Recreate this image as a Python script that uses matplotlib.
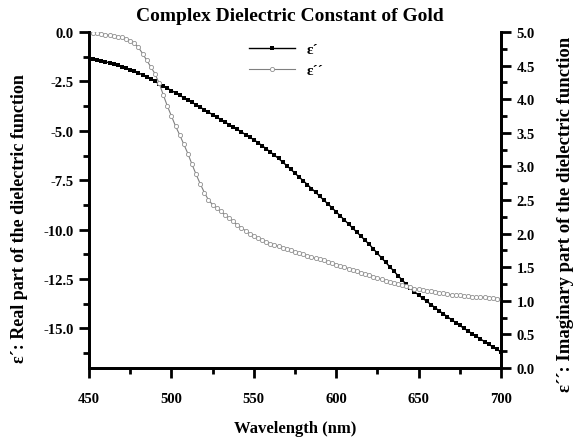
import matplotlib
matplotlib.use("Agg")
import matplotlib.pyplot as plt
import numpy as np
from matplotlib.ticker import MultipleLocator

plt.rcParams['font.family'] = ['Liberation Serif', 'DejaVu Serif']
plt.rcParams['font.weight'] = 'bold'
plt.rcParams['axes.unicode_minus'] = False

# Wavelength grid (nm), 2.5 nm step
wavelength = np.arange(450, 700.01, 2.5)

# Real part of the dielectric function
eps_real = [
    -1.33, -1.37, -1.41, -1.46, -1.51, -1.56, -1.62, -1.68, -1.75, -1.82,
    -1.90, -1.98, -2.07, -2.17, -2.27, -2.38, -2.50, -2.62, -2.74, -2.85,
    -2.96, -3.08, -3.20, -3.32, -3.44, -3.56, -3.68, -3.81, -3.93, -4.06,
    -4.18, -4.31, -4.43, -4.56, -4.68, -4.81, -4.93, -5.06, -5.19, -5.32,
    -5.45, -5.60, -5.75, -5.91, -6.07, -6.23, -6.40, -6.58, -6.76, -6.95,
    -7.15, -7.34, -7.53, -7.72, -7.92, -8.11, -8.31, -8.51, -8.70, -8.90,
    -9.10, -9.31, -9.51, -9.72, -9.92, -10.13, -10.33, -10.54, -10.74, -10.97,
    -11.20, -11.43, -11.65, -11.88, -12.10, -12.33, -12.55, -12.76, -12.96, -13.14,
    -13.31, -13.47, -13.63, -13.79, -13.95, -14.11, -14.26, -14.41, -14.56, -14.70,
    -14.85, -14.99, -15.13, -15.27, -15.40, -15.53, -15.67, -15.80, -15.93, -16.06,
    -16.18,
]

# Imaginary part of the dielectric function
eps_imag = [
    4.99, 4.99, 4.98, 4.97, 4.96, 4.95, 4.94, 4.93, 4.92, 4.90,
    4.87, 4.83, 4.77, 4.68, 4.58, 4.48, 4.38, 4.24, 4.07, 3.90,
    3.75, 3.60, 3.47, 3.33, 3.19, 3.03, 2.88, 2.74, 2.61, 2.50,
    2.43, 2.38, 2.33, 2.28, 2.23, 2.18, 2.13, 2.09, 2.04, 2.00,
    1.97, 1.93, 1.90, 1.88, 1.85, 1.83, 1.81, 1.79, 1.77, 1.75,
    1.73, 1.71, 1.69, 1.67, 1.65, 1.63, 1.62, 1.60, 1.58, 1.56,
    1.54, 1.52, 1.50, 1.48, 1.46, 1.44, 1.42, 1.40, 1.38, 1.36,
    1.34, 1.32, 1.30, 1.28, 1.27, 1.25, 1.24, 1.22, 1.20, 1.18,
    1.17, 1.16, 1.15, 1.14, 1.13, 1.12, 1.11, 1.10, 1.09, 1.08,
    1.08, 1.07, 1.07, 1.06, 1.06, 1.05, 1.05, 1.04, 1.04, 1.03,
    1.03,
]

fig = plt.figure(figsize=(5.78, 4.39), dpi=100)
ax = fig.add_axes([0.154, 0.1595, 0.7128, 0.7653])
ax2 = ax.twinx()

l1, = ax.plot(wavelength, eps_real, color='black', lw=1.0, marker='s',
              markersize=3.2, markeredgewidth=0, label='ε´')
l2, = ax2.plot(wavelength, eps_imag, color='#808080', lw=0.8, marker='o',
               markersize=3, markerfacecolor='white', markeredgecolor='#909090',
               markeredgewidth=0.6, label='ε´´')

ax.set_xlim(450, 700)
ax.set_ylim(-17, 0)
ax2.set_ylim(0, 5)

ax.xaxis.set_major_locator(MultipleLocator(50))
ax.xaxis.set_minor_locator(MultipleLocator(25))
ax.yaxis.set_major_locator(MultipleLocator(2.5))
ax.yaxis.set_minor_locator(MultipleLocator(1.25))
ax2.yaxis.set_major_locator(MultipleLocator(0.5))
ax2.yaxis.set_minor_locator(MultipleLocator(0.25))
ax.yaxis.set_major_formatter('{x:.1f}')
ax2.yaxis.set_major_formatter('{x:.1f}')

for a in (ax, ax2):
    a.spines['top'].set_visible(False)
    for s in a.spines.values():
        s.set_linewidth(2)
    a.tick_params(which='major', direction='out', length=7, width=2,
                  labelsize=10.5, pad=4)
    a.tick_params(which='minor', direction='out', length=4, width=2)
ax.tick_params(axis='x', pad=10)

ax.set_xlabel('Wavelength (nm)', fontsize=12, fontweight='bold', labelpad=11)
ax.set_ylabel('ε´: Real part of the dielectric function', fontsize=13,
              fontweight='bold')
ax.yaxis.set_label_coords(-0.148, 0.449)
ax2.set_ylabel('ε´´: Imaginary part of the dielectric function', fontsize=13.5,
               fontweight='bold', rotation=90)
ax2.yaxis.set_label_coords(1.136, 0.461)

fig.text(290 / 578, 1 - 21 / 439, 'Complex Dielectric Constant of Gold',
         fontsize=14, fontweight='bold', ha='center', va='baseline')

ax.legend(handles=[l1, l2], loc='upper left', bbox_to_anchor=(0.355, 1.01),
          frameon=False, fontsize=11, handlelength=3.0, labelspacing=0.5,
          numpoints=1)

fig.savefig('out.png', dpi=100)
